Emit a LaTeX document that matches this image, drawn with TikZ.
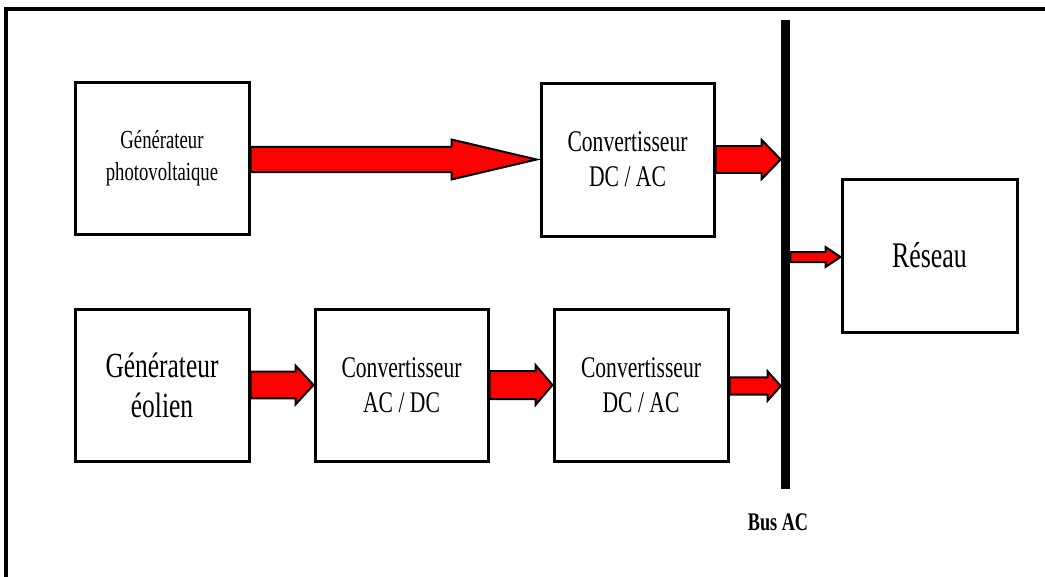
\documentclass[tikz,border=0pt]{standalone}
\usepackage{fontspec}
\setmainfont{Liberation Serif}[FakeStretch=0.72]
\usetikzlibrary{calc}
\tikzset{
  box/.style={draw=black, line width=2.25pt, fill=white, inner sep=0pt, align=center},
  blockarr/.style={draw=black, fill=red, line width=1.5pt, line join=miter},
  frameline/.style={draw=black, line width=2.6pt}
}
% #1 from, #2 to, #3 head length, #4 shaft half, #5 head half (all in pt)
\newcommand{\fatarrow}[5]{%
  \path[blockarr] let \p1=(#1), \p2=(#2) in
    (\x1,\y2+#4) -- (\x2-#3,\y2+#4) -- (\x2-#3,\y2+#5) -- (\x2,\y2)
    -- (\x2-#3,\y2-#5) -- (\x2-#3,\y2-#4) -- (\x1,\y2-#4) -- cycle;}
\begin{document}
\begin{tikzpicture}[x=0.75pt, y=-0.75pt]
\useasboundingbox (0,0) rectangle (1045,576);
\begin{scope}
\clip (0,0) rectangle (1045,576);
\draw[frameline] (6,9) rectangle (1100,650);
\end{scope}

\node[box, minimum width=130.5pt, minimum height=114pt, font=\fontsize{19.5}{24}\selectfont] (pv) at (162,158) {Générateur\\photovoltaique};
\node[box, minimum width=129.75pt, minimum height=114.75pt, font=\fontsize{22.5}{26}\selectfont] (c1) at (627.5,159.5) {Convertisseur\\DC / AC};
\node[box, minimum width=130.5pt, minimum height=114pt, font=\fontsize{26.5}{30}\selectfont] (eol) at (162,385) {Générateur\\éolien};
\node[box, minimum width=129.75pt, minimum height=114pt, font=\fontsize{22.5}{26}\selectfont] (acdc) at (401.5,385) {Convertisseur\\AC / DC};
\node[box, minimum width=130.5pt, minimum height=114pt, font=\fontsize{22.5}{26}\selectfont] (c2) at (641,385) {Convertisseur\\DC / AC};
\node[box, minimum width=131.25pt, minimum height=114.75pt, font=\fontsize{27}{30}\selectfont] (res) at (929.5,255.5) {Réseau};
\node[fill=black, inner sep=0pt, minimum width=6.75pt, minimum height=351.75pt] (bus) at (785.5,254.5) {};
\node[font=\fontsize{19}{22}\selectfont\bfseries] (buslbl) at (778,522) {Bus AC};

\coordinate (pvtip) at ($(c1.west)+(-3,0)$);
\fatarrow{pv.east}{pvtip}{63.75pt}{9.4pt}{15pt}
\coordinate (c1tip) at (bus.west |- c1.east);
\fatarrow{c1.east}{c1tip}{14.25pt}{10pt}{14.6pt}
\coordinate (restip) at ($(res.west)+(0,1.5)$);
\fatarrow{bus.east}{restip}{11.25pt}{3.75pt}{7.5pt}
\fatarrow{eol.east}{acdc.west}{13.5pt}{10pt}{14.6pt}
\fatarrow{acdc.east}{c2.west}{12.75pt}{10.5pt}{15pt}
\coordinate (c2tip) at ($(bus.west |- c2.east)+(0,1)$);
\fatarrow{c2.east}{c2tip}{9.75pt}{6.4pt}{10.9pt}
\end{tikzpicture}
\end{document}
